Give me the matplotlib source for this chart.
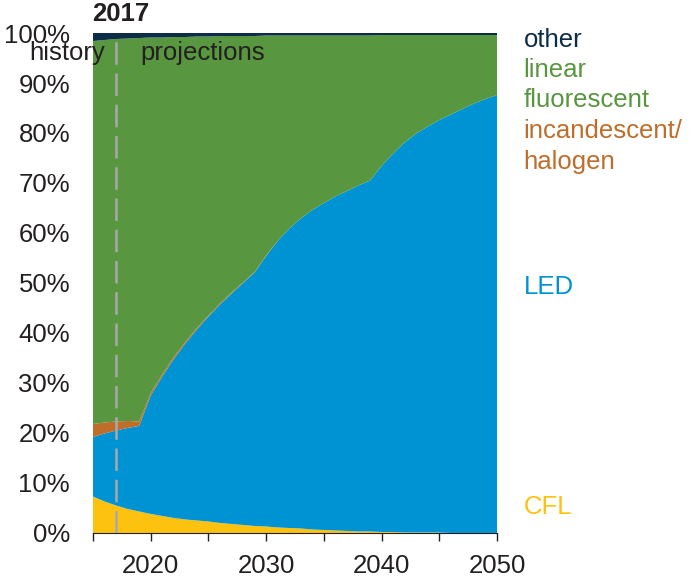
import numpy as np
import matplotlib.pyplot as plt

plt.rcParams['font.family'] = ['Liberation Sans', 'DejaVu Sans']

# lighting stock share by type, percent
years = np.arange(2015, 2051)

cfl = [7.3, 6.3, 5.5, 4.8, 4.3, 3.8, 3.4, 3.0, 2.7, 2.5,
       2.3, 2.0, 1.8, 1.6, 1.4, 1.3, 1.1, 1.0, 0.9, 0.7,
       0.6, 0.5, 0.4, 0.3, 0.3, 0.2, 0.2, 0.1, 0.1, 0.1,
       0.1, 0.0, 0.0, 0.0, 0.0, 0.0]
led = [11.9, 13.6, 15.0, 16.2, 17.1, 23.7, 27.9, 31.8, 35.2, 38.2,
       41.0, 43.7, 46.1, 48.4, 50.7, 54.1, 57.3, 59.9, 62.0, 63.9,
       65.4, 66.8, 68.0, 69.2, 70.2, 73.2, 75.7, 78.0, 79.8, 81.2,
       82.5, 83.7, 84.8, 85.9, 86.8, 87.6]
incandescent = [2.6, 2.2, 1.8, 1.4, 0.9, 0.5, 0.4, 0.4, 0.3, 0.3,
                0.2, 0.2, 0.2, 0.1, 0.1, 0.1, 0.0, 0.0, 0.0, 0.0,
                0.0, 0.0, 0.0, 0.0, 0.0, 0.0, 0.0, 0.0, 0.0, 0.0,
                0.0, 0.0, 0.0, 0.0, 0.0, 0.0]
linear = [76.6, 76.5, 76.5, 76.5, 76.7, 71.1, 67.4, 64.0, 61.0, 58.3,
          55.8, 53.5, 51.3, 49.3, 47.2, 44.0, 41.1, 38.6, 36.6, 34.9,
          33.5, 32.2, 31.1, 30.0, 29.0, 26.2, 23.7, 21.5, 19.7, 18.3,
          17.0, 15.9, 14.8, 13.7, 12.8, 12.0]
other = [1.6, 1.4, 1.2, 1.1, 1.0, 0.9, 0.9, 0.8, 0.8, 0.7,
         0.7, 0.6, 0.6, 0.6, 0.6, 0.5, 0.5, 0.5, 0.5, 0.5,
         0.5, 0.5, 0.5, 0.5, 0.5, 0.4, 0.4, 0.4, 0.4, 0.4,
         0.4, 0.4, 0.4, 0.4, 0.4, 0.4]

c_cfl = '#fdc20f'
c_led = '#0093d3'
c_inc = '#bf6d2b'
c_lin = '#58963f'
c_oth = '#0c2c48'
c_txt = '#231f20'
fs = 18.5

fig = plt.figure(figsize=(6.92, 5.76), dpi=100)
ax = fig.add_axes([0.1344, 0.0747, 0.5838, 0.868])

ax.stackplot(years, cfl, led, incandescent, linear, other,
             colors=[c_cfl, c_led, c_inc, c_lin, c_oth], linewidth=0)

ax.set_xlim(2015, 2050)
ax.set_ylim(0, 100)

# history / projections divider
ax.axvline(2017, color='#a9a9a9', lw=1.8, ls=(0, (9, 3.5)), zorder=5)
ax.text(2017.38, 103.9, '2017', ha='center', va='center', fontsize=fs,
        fontweight='bold', color=c_txt, clip_on=False)
ax.text(2016.05, 96.0, 'history', ha='right', va='center', fontsize=fs,
        color=c_txt)
ax.text(2019.07, 96.0, 'projections', ha='left', va='center', fontsize=fs,
        color=c_txt)

ax.set_yticks(np.arange(0, 101, 10))
ax.set_yticklabels(['{}%'.format(v) for v in range(0, 101, 10)])
ax.set_xticks(np.arange(2015, 2051, 5))
ax.set_xticklabels(['', '2020', '', '2030', '', '2040', '', '2050'])
ax.tick_params(axis='y', length=0, pad=16.5, labelsize=fs, labelcolor=c_txt)
ax.tick_params(axis='x', direction='out', length=5.8, width=1, pad=9,
               labelsize=fs, labelcolor=c_txt, color=c_txt)

for s in ['top', 'right', 'left']:
    ax.spines[s].set_visible(False)
ax.spines['bottom'].set_color(c_txt)

# series labels at the right edge
labels = [('other', 98.6, c_oth), ('linear', 92.6, c_lin),
          ('fluorescent', 86.6, c_lin), ('incandescent/', 80.4, c_inc),
          ('halogen', 74.2, c_inc), ('LED', 49.2, c_led), ('CFL', 5.2, c_cfl)]
for txt, y, col in labels:
    ax.text(2052.3, y, txt, ha='left', va='center', fontsize=fs,
            color=col, clip_on=False)

fig.savefig('out.png', dpi=100)
